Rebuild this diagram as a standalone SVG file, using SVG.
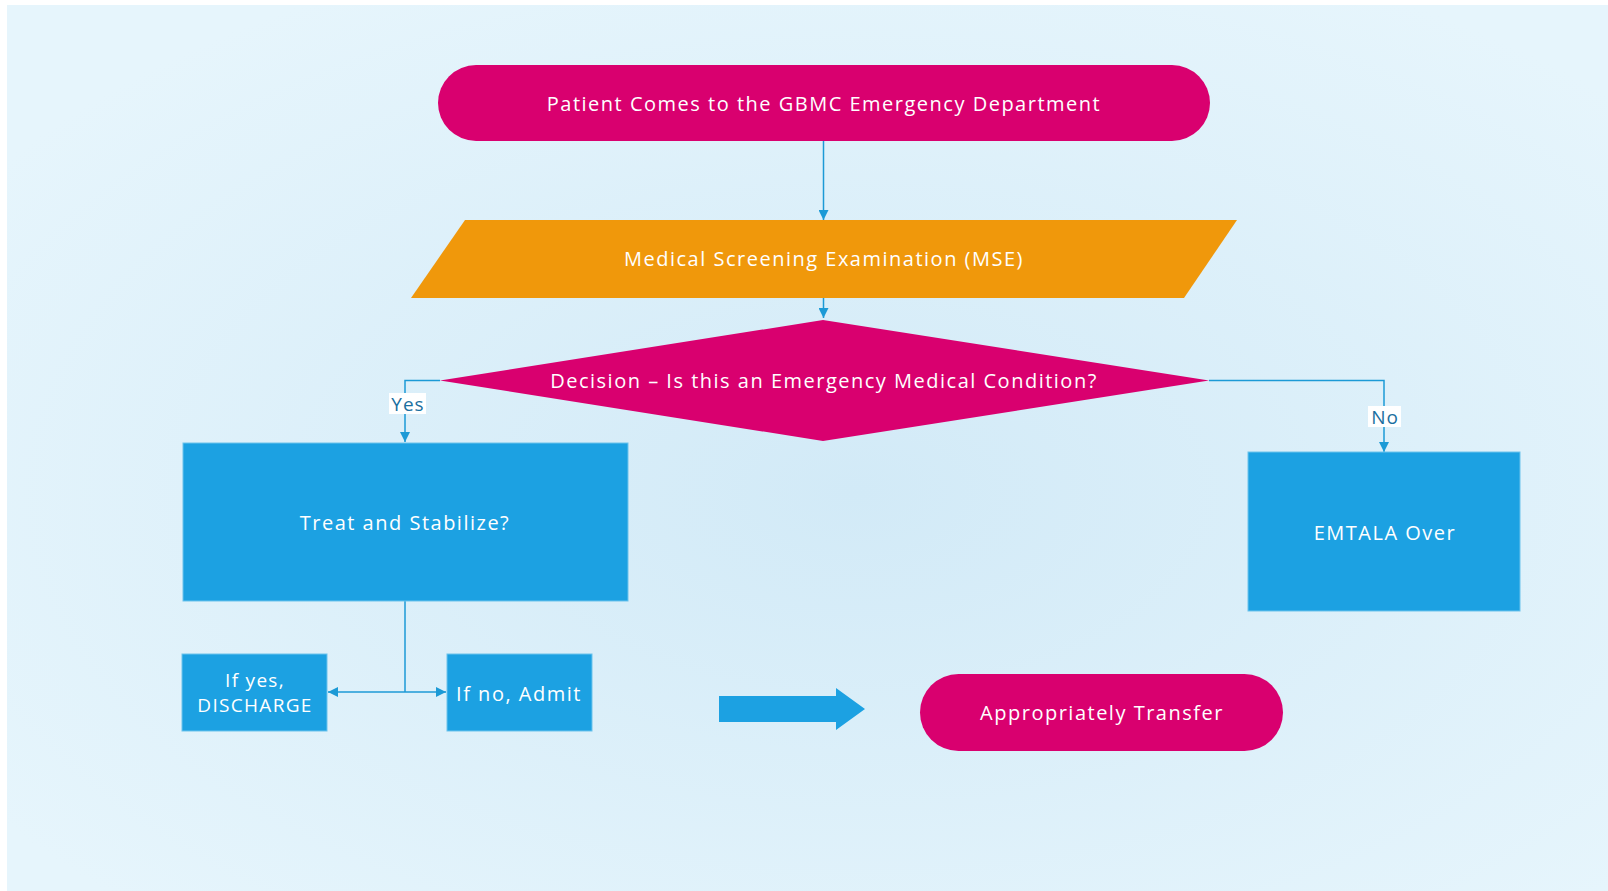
<svg xmlns="http://www.w3.org/2000/svg" width="1608" height="891" viewBox="0 0 1608 891">
<defs>
<radialGradient id="bg" cx="0.53" cy="0.55" r="0.65">
<stop offset="0" stop-color="#D2EAF7"/>
<stop offset="1" stop-color="#E6F5FC"/>
</radialGradient>
<marker id="ah" viewBox="0 0 10 10" refX="10" refY="5" markerWidth="10" markerHeight="10" markerUnits="userSpaceOnUse" orient="auto">
<path d="M0,0 L10,5 L0,10 Z" fill="#1C9AD6"/>
</marker>
<style>
.t{font-family:"Open Sans","Noto Sans","DejaVu Sans",sans-serif;font-size:20px;letter-spacing:1.5px;fill:#FFFFFF;text-anchor:middle;dominant-baseline:central}
.s{font-size:19px;letter-spacing:1.3px}
.lbl{font-family:"Open Sans","Noto Sans","DejaVu Sans",sans-serif;font-size:19px;letter-spacing:1px;fill:#1B6FA0;text-anchor:middle;dominant-baseline:central}
.mag{fill:#D9006F}
.org{fill:#F0980B}
.blu{fill:#1CA1E2;stroke:#6CC3EC;stroke-width:1}
.ln{fill:none;stroke:#1C9AD6;stroke-width:1.5}
</style>
</defs>
<rect x="0" y="0" width="1608" height="891" fill="#FFFFFF"/>
<rect x="7" y="5" width="1601" height="886" fill="url(#bg)"/>
<g id="connectors">
<path class="ln" d="M823.5,141 V220" marker-end="url(#ah)"/>
<path class="ln" d="M823.5,298 V318" marker-end="url(#ah)"/>
<path class="ln" d="M440,380.5 H405 V442" marker-end="url(#ah)"/>
<rect x="389" y="393" width="37" height="21" fill="#FFFFFF"/>
<text class="lbl" x="408" y="404">Yes</text>
<path class="ln" d="M1209,380.5 H1384 V452" marker-end="url(#ah)"/>
<rect x="1368" y="406" width="33" height="21" fill="#FFFFFF"/>
<text class="lbl" x="1385" y="416.5">No</text>
<path class="ln" d="M405,601 V692"/>
<path class="ln" d="M405,692 H328" marker-end="url(#ah)"/>
<path class="ln" d="M405,692 H446" marker-end="url(#ah)"/>
</g>
<g id="start">
<rect class="mag" x="438" y="65" width="772" height="76" rx="38" ry="38"/>
<text class="t" x="824" y="103">Patient Comes to the GBMC Emergency Department</text>
</g>
<g id="mse">
<polygon class="org" points="465,220 1237,220 1184,298 411,298"/>
<text class="t" x="824" y="258">Medical Screening Examination (MSE)</text>
</g>
<g id="decision">
<polygon class="mag" points="823,320 1209,380.5 823,441 440,380.5"/>
<text class="t" x="824" y="380">Decision – Is this an Emergency Medical Condition?</text>
</g>
<g id="treat">
<rect class="blu" x="183" y="443" width="445" height="158"/>
<text class="t" x="405" y="522">Treat and Stabilize?</text>
</g>
<g id="emtala">
<rect class="blu" x="1248" y="452" width="272" height="159"/>
<text class="t" x="1385" y="532">EMTALA Over</text>
</g>
<g id="discharge">
<rect class="blu" x="182" y="654" width="145" height="77"/>
<text class="t s" x="255" y="680">If yes,</text>
<text class="t s" x="255" y="705">DISCHARGE</text>
</g>
<g id="admit">
<rect class="blu" x="447" y="654" width="145" height="77"/>
<text class="t" x="519" y="693">If no, Admit</text>
</g>
<g id="blockarrow">
<polygon fill="#1CA1E2" points="719,696 836,696 836,688 865,709 836,730 836,722 719,722"/>
</g>
<g id="transfer">
<rect class="mag" x="920" y="674" width="363" height="77" rx="38.5" ry="38.5"/>
<text class="t" x="1102" y="712">Appropriately Transfer</text>
</g>
</svg>
